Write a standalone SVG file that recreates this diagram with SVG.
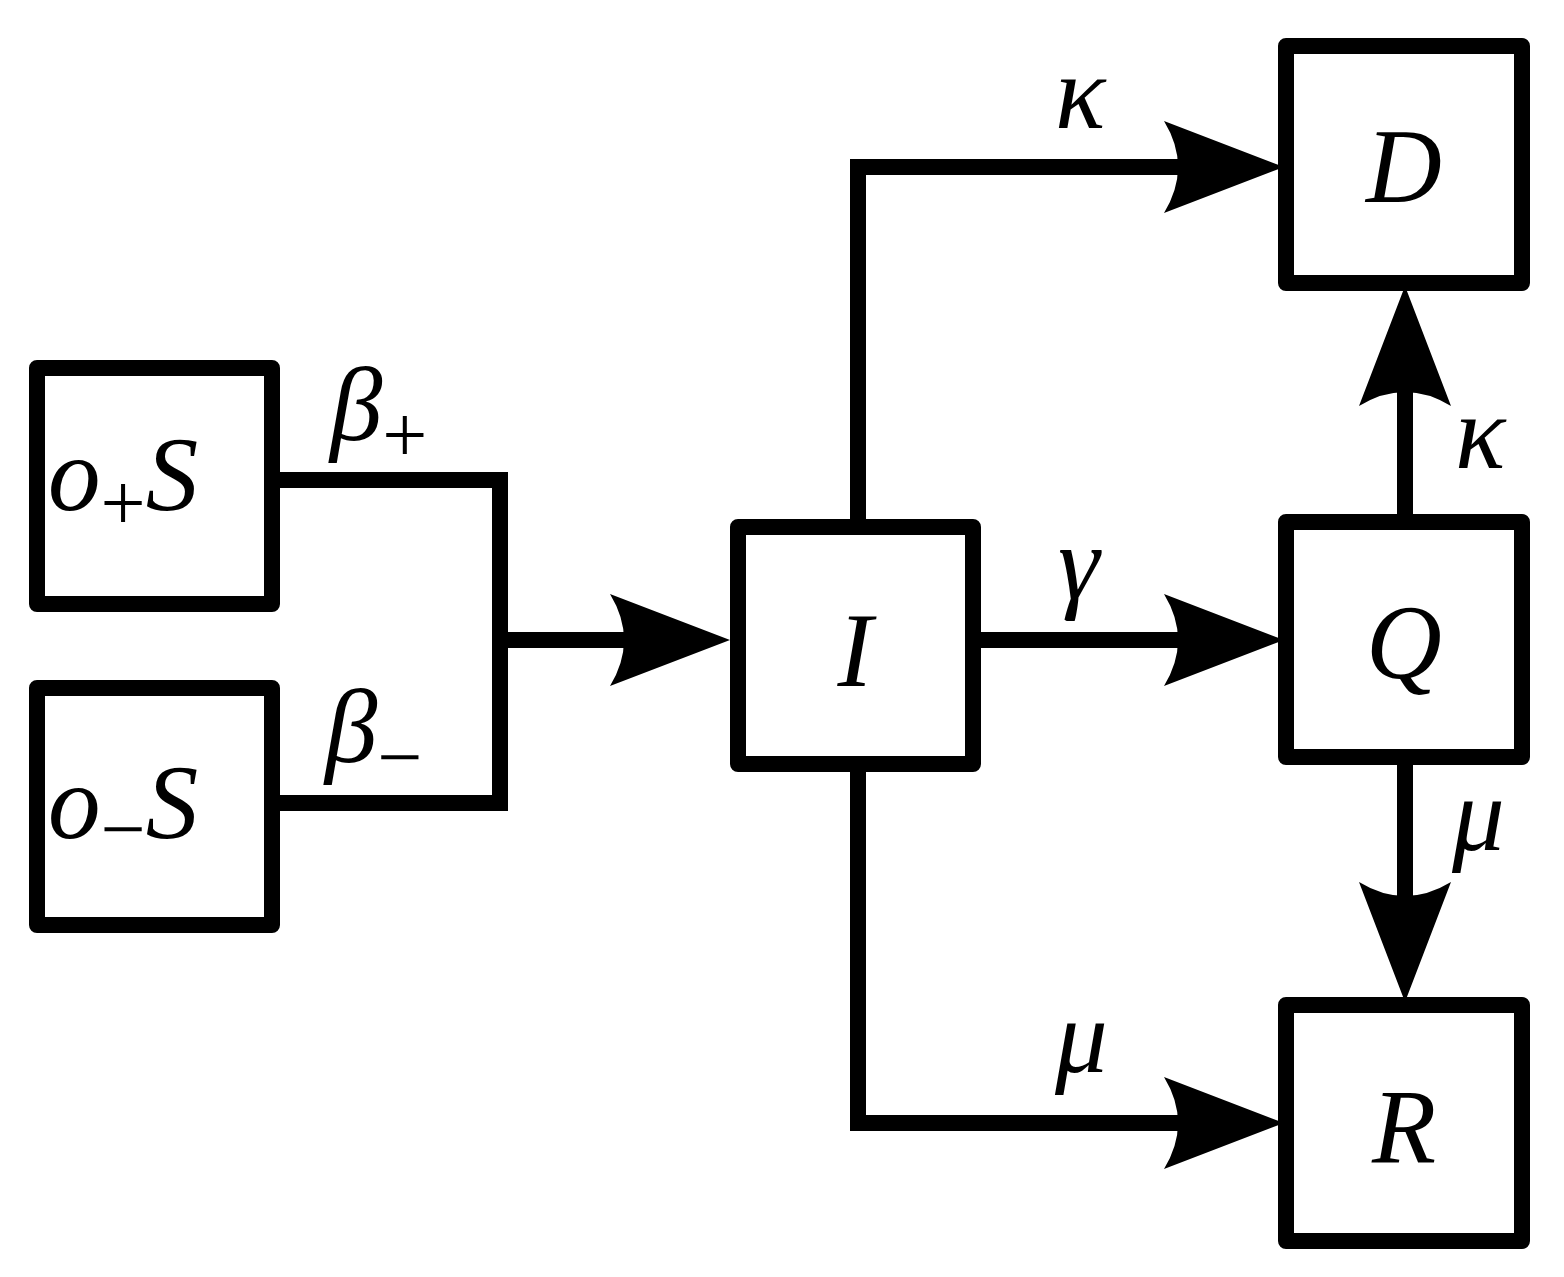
<svg xmlns="http://www.w3.org/2000/svg" width="1564" height="1277" viewBox="0 0 1564 1277">
<style>
.box{fill:#fff;stroke:#000;stroke-width:16;stroke-linejoin:round}
.ln{fill:none;stroke:#000;stroke-width:16}
.m{font-family:"Liberation Serif",serif;font-style:italic;font-size:105px;fill:#000}
.s{font-family:"Liberation Serif",serif;font-size:80px;fill:#000}
.ah{fill:#000}
</style>
<rect width="1564" height="1277" fill="#fff"/>
<defs>
<path id="arr" d="M0,0 L-120,-46 Q-92,0 -120,46 Z"/>
</defs>
<g id="connectors">
<polyline class="ln" points="272,480 500,480 500,803 272,803"/>
<line class="ln" x1="500" y1="640" x2="640" y2="640"/>
<use href="#arr" transform="translate(730,640)"/>
<polyline class="ln" points="858,527 858,167 1180,167"/>
<use href="#arr" transform="translate(1284,167)"/>
<line class="ln" x1="973" y1="640" x2="1180" y2="640"/>
<use href="#arr" transform="translate(1284,640)"/>
<polyline class="ln" points="858,764 858,1123 1180,1123"/>
<use href="#arr" transform="translate(1284,1123)"/>
<line class="ln" x1="1405" y1="522" x2="1405" y2="380"/>
<use href="#arr" transform="translate(1405,286) rotate(-90)"/>
<line class="ln" x1="1405" y1="757" x2="1405" y2="910"/>
<use href="#arr" transform="translate(1405,1002) rotate(90)"/>
<text class="m" x="1055" y="128">κ</text>
<text class="m" x="330" y="440">β<tspan class="s" font-style="normal" dy="22">+</tspan></text>
<text class="m" x="325" y="762">β<tspan class="s" font-style="normal" dy="22">−</tspan></text>
<text class="m" x="1058" y="598">γ</text>
<text class="m" x="1055" y="1072">μ</text>
<text class="m" x="1455" y="468">κ</text>
<text class="m" x="1452" y="850">μ</text>
</g>
<g id="oplusS"><rect class="box" x="37" y="368" width="235" height="236"/><text class="m" x="48" y="510">o<tspan class="s" font-style="normal" dy="20">+</tspan><tspan dy="-20">S</tspan></text></g>
<g id="ominusS"><rect class="box" x="37" y="688" width="235" height="237"/><text class="m" x="48" y="838">o<tspan class="s" font-style="normal" dy="18">−</tspan><tspan dy="-18">S</tspan></text></g>
<g id="I"><rect class="box" x="738" y="527" width="235" height="237"/><text class="m" x="855" y="686" text-anchor="middle">I</text></g>
<g id="D"><rect class="box" x="1286" y="46" width="236" height="237"/><text class="m" x="1404" y="202" text-anchor="middle">D</text></g>
<g id="Q"><rect class="box" x="1286" y="522" width="236" height="235"/><text class="m" x="1404" y="678" text-anchor="middle">Q</text></g>
<g id="R"><rect class="box" x="1286" y="1005" width="236" height="236"/><text class="m" x="1404" y="1162" text-anchor="middle">R</text></g>
</svg>
